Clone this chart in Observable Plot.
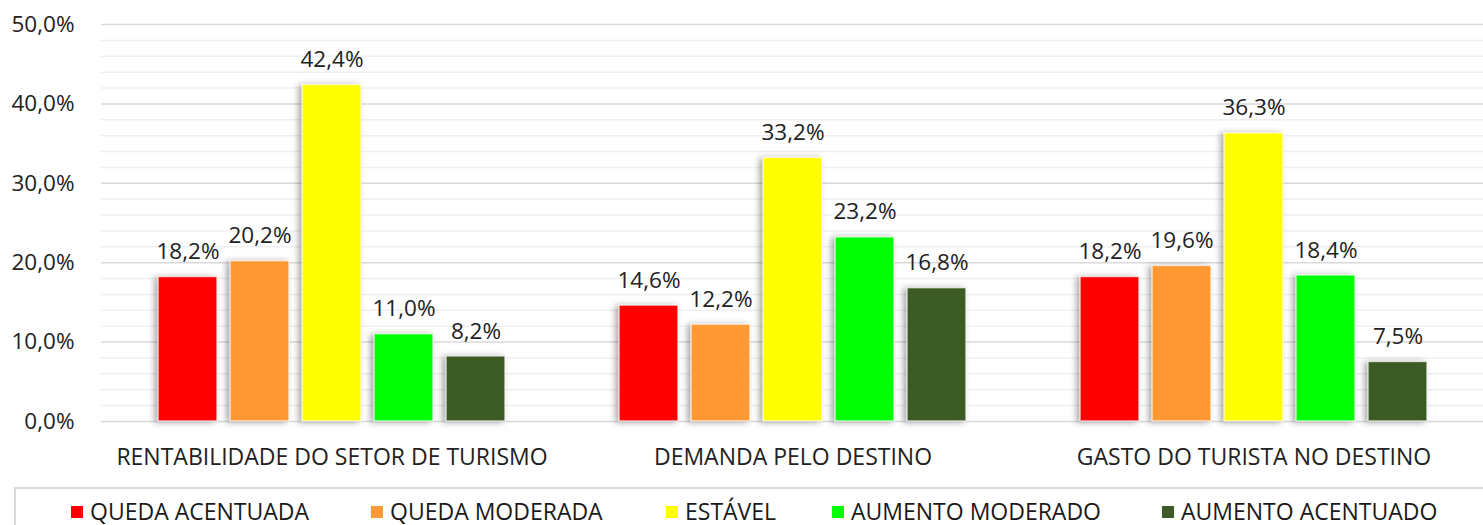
<!DOCTYPE html>
<html>
<head>
<meta charset="utf-8">
<script src="https://cdn.jsdelivr.net/npm/d3@7"></script>
<script src="https://cdn.jsdelivr.net/npm/@observablehq/plot@0.6"></script>
<style>
  html, body { margin: 0; padding: 0; background: #fff; overflow: hidden; }
  body { width: 1483px; height: 525px; font-family: "Open Sans", sans-serif; color: #222; }
  #chart svg g[aria-label="bar"] rect { filter: drop-shadow(-3px 1px 3px rgba(0,0,0,0.35)); }
  #legend {
    position: absolute; left: 14px; top: 487px; width: 1469px; height: 38px;
    border: 2px solid #d9d9d9; border-right: none; border-bottom: none; box-sizing: border-box; background: #fff;
  }
  .item { position: absolute; top: 10px; font-size: 23px; line-height: 24px; height: 24px; white-space: nowrap; color: #1a1a1a; }
  .sw { display: inline-block; width: 12px; height: 12px; margin-right: 7px; vertical-align: 2px; }
</style>
</head>
<body>
<div id="chart"></div>
<div id="legend"></div>
<script>
const categories = ["RENTABILIDADE DO SETOR DE TURISMO", "DEMANDA PELO DESTINO", "GASTO DO TURISTA NO DESTINO"];
const series = ["QUEDA ACENTUADA", "QUEDA MODERADA", "ESTÁVEL", "AUMENTO MODERADO", "AUMENTO ACENTUADO"];
const colors = ["#FF0000", "#FF9933", "#FFFF00", "#00FF00", "#3B5A24"];
const quedaAcentuada = [18.2, 14.6, 18.2];
const quedaModerada = [20.2, 12.2, 19.6];
const estavel = [42.4, 33.2, 36.3];
const aumentoModerado = [11.0, 23.2, 18.4];
const aumentoAcentuado = [8.2, 16.8, 7.5];
const yTicks = [0, 10, 20, 30, 40, 50];
const yMinor = [2, 4, 6, 8, 12, 14, 16, 18, 22, 24, 26, 28, 32, 34, 36, 38, 42, 44, 46, 48];

const seriesValues = [quedaAcentuada, quedaModerada, estavel, aumentoModerado, aumentoAcentuado];
const rows = categories.flatMap((c, i) => series.map((s, j) => ({category: c, series: s, value: seriesValues[j][i]})));
const fmt = d => d.toFixed(1).replace(".", ",") + "%";

const plot = Plot.plot({
  width: 1483,
  height: 484,
  marginLeft: 100,
  marginRight: -2,
  marginTop: 24,
  marginBottom: 63,
  style: {fontFamily: "Open Sans, sans-serif", fontSize: "22.5px", color: "#222", background: "transparent"},
  facet: {data: rows, x: "category"},
  fx: {domain: categories, padding: 0, label: null, axis: "bottom", tickSize: 0, tickPadding: 27},
  x: {domain: series, paddingInner: 0.18, paddingOuter: 0.754, axis: null},
  y: {domain: [0, 50], ticks: yTicks, tickFormat: fmt, tickSize: 0, tickPadding: 27, label: null},
  color: {domain: series, range: colors},
  marks: [
    Plot.ruleY(yMinor, {stroke: "#efefef", strokeWidth: 1.5}),
    Plot.ruleY(yTicks, {stroke: "#d9d9d9", strokeWidth: 1.5}),
    Plot.barY(rows, {x: "series", y: "value", fill: "series", stroke: "#fff", strokeWidth: 1.5, strokeOpacity: 0.7}),
    Plot.text(rows, {x: "series", y: "value", text: d => fmt(d.value), dy: -25, lineAnchor: "middle", fill: "#222", fontSize: 22.5})
  ]
});
plot.querySelectorAll('g[aria-label="fx-axis"] text, g[aria-label="fx-axis tick label"] text').forEach(t => t.style.fontSize = "23px");
document.getElementById("chart").appendChild(plot);

const legend = document.getElementById("legend");
const lefts = [55, 355, 650, 816, 1146];
series.forEach((s, i) => {
  const el = document.createElement("div");
  el.className = "item";
  el.style.left = lefts[i] + "px";
  el.innerHTML = `<span class="sw" style="background:${colors[i]}"></span>${s}`;
  legend.appendChild(el);
});
</script>
</body>
</html>
